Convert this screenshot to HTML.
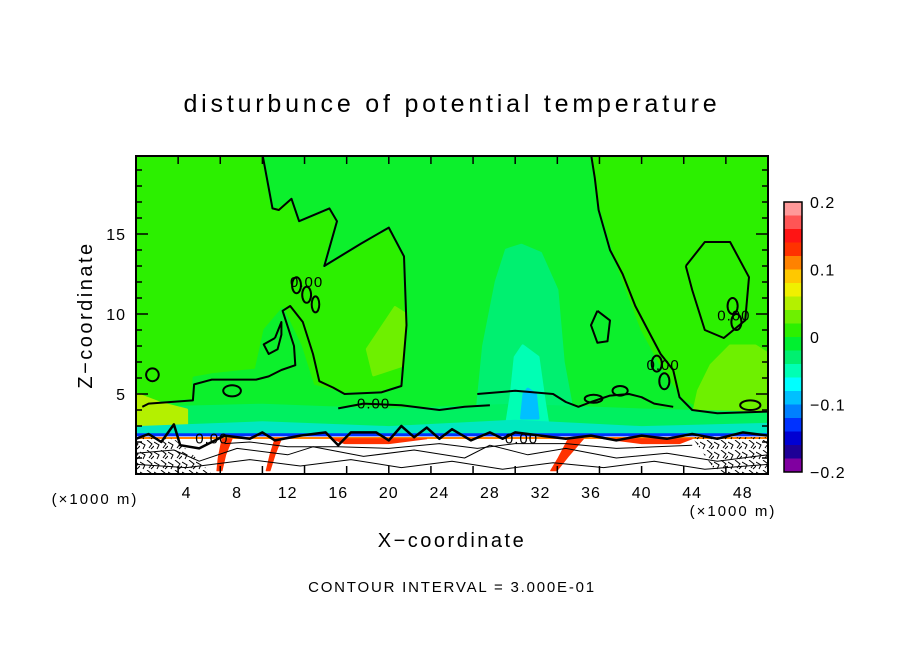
<!DOCTYPE html>
<html><head><meta charset="utf-8">
<style>
body{margin:0;background:#fff;}
svg text{font-family:"Liberation Sans",sans-serif;fill:#000;}
</style></head>
<body>
<svg id="chart" width="904" height="654" viewBox="0 0 904 654" xmlns="http://www.w3.org/2000/svg">
<rect width="904" height="654" fill="#fff"/>
<text x="452" y="112" font-size="25" text-anchor="middle" letter-spacing="3.8">disturbunce of potential temperature</text>
<defs>
<clipPath id="pc"><rect x="136" y="156" width="632" height="318"/></clipPath>
<pattern id="noise" width="14" height="10" patternUnits="userSpaceOnUse">
<path d="M0 2 L5 5 L3 9 M7 0 L12 4 L9 8 M11 9 L14 6" stroke="#000" stroke-width="1" fill="none"/>
</pattern>
</defs>
<g id="field" clip-path="url(#pc)"></g>
<g id="contours" clip-path="url(#pc)"></g>
<rect x="136" y="156" width="632" height="318" fill="none" stroke="#000" stroke-width="2"/>
<g id="axes"></g>
<g id="cbar"></g>
<text x="95" y="504" font-size="15" text-anchor="middle" letter-spacing="2">(×1000 m)</text>
<text x="733" y="516" font-size="15" text-anchor="middle" letter-spacing="2">(×1000 m)</text>
<text x="452" y="547" font-size="20" text-anchor="middle" letter-spacing="2.5">X−coordinate</text>
<text transform="translate(92,315) rotate(-90)" font-size="20" text-anchor="middle" letter-spacing="2.5">Z−coordinate</text>
<text x="452" y="592" font-size="15" text-anchor="middle" letter-spacing="1.8">CONTOUR INTERVAL = 3.000E-01</text>
</svg>
<script>
const xTicks=[4,8,12,16,20,24,28,32,36,40,44,48];
const zTicks=[5,10,15];
const cbLevels=[0.2,0.18,0.16,0.14,0.12,0.1,0.08,0.06,0.04,0.02,0,-0.02,-0.04,-0.06,-0.08,-0.1,-0.12,-0.14,-0.16,-0.18,-0.2];
const cbColors=["#ff9999","#ff5555","#ff1414","#ff3200","#ff8200","#ffc800","#f0f000","#b4f000","#6ef000","#2cf000","#00f030","#00f070","#00ffb4","#00ffff","#00c0ff","#0080ff","#0032ff","#0000d2","#1e0096","#8000a0"];
const cbTicks=[0.2,0.1,0,-0.1,-0.2];
const cbTickLabels=["0.2","0.1","0","−0.1","−0.2"];
const regionMid=[[10,20],[10.8,16.6],[12.3,17.2],[12.9,15.8],[15.3,16.6],[15.9,15.8],[14.9,13],[17.8,14.4],[20,15.4],[21.2,13.6],[21.4,9.3],[21,5.5],[19.4,5.1],[16.5,5],[14,5.5],[13,8],[11.6,10.3],[10.2,9],[9.5,6.5],[6,6.2],[4.6,6],[4.5,4.6],[1,4.4],[0,4.3],[0,2.5],[50,2.5],[50,3.5],[45.5,3.6],[43.2,4.6],[41.5,6.5],[39.8,9],[38,12.8],[36.6,16.5],[36.2,18.5],[36,20]];
const regionAqua=[[30.5,14.3],[32,13.8],[33.3,11.5],[33.8,7],[34.5,4],[27,4],[27.5,8],[28.5,12],[29.3,14]];
const regionCyan=[[30.6,8],[31.8,7.3],[32.3,4.5],[32.6,3],[29.3,3],[29.7,5],[30,7.3]];
const regionSky=[[31,5.3],[31.6,5],[31.8,3.5],[30.5,3.5],[30.7,5]];
const regionYG1=[[20.5,10.4],[21.3,10],[21.1,6.8],[18.8,6.2],[18.3,7.8]];
const regionYG2=[[47,8],[49,8],[50,7.5],[50,3.3],[44,3.4],[44.5,5.2],[45.5,6.8]];
const regionYG3=[[0,5],[2,4.4],[4,4],[4,2.6],[0,2.6]];
const bandAqua=[[0,4.1],[10,4.3],[20,4.0],[30,4.3],[40,4.0],[50,3.8],[50,2.5],[0,2.5]];
const bandCyan=[[0,2.9],[10,3.2],[20,2.9],[30,3.3],[40,2.9],[50,3.1],[50,2.5],[0,2.5]];
const bandBlue=[[0,2.55],[50,2.55],[50,2.3],[0,2.3]];
const bandWhite=[[0,2.35],[50,2.35],[50,0],[0,0]];
const bandNoiseL=[[0,2.3],[3,2.2],[4.5,1.2],[6,0],[0,0]];
const bandNoiseR=[[44,2.3],[50,2.3],[50,0],[46,0]];
const redStreaks=[[[6.8,2.2],[6.5,1],[6.4,0.2],[6.8,0.2],[7.1,1.2],[7.6,2.2]],[[34.2,2.2],[33.4,1],[32.8,0.2],[33.3,0.2],[34.2,1.1],[35.4,2.2]],[[15.5,2.2],[16.5,1.9],[20,1.9],[23,2.2]],[[37,2.2],[40,1.9],[43,1.9],[44,2.2]],[[11,2.2],[10.6,1.2],[10.3,0.2],[10.6,0.2],[11,1.2],[11.5,2.2]]];
const contourA=[[10,20],[10.8,16.6],[11.3,16.5],[12.3,17.2],[12.9,15.8],[15.3,16.6],[15.9,15.8],[14.9,13],[17.8,14.4],[20,15.4],[21.2,13.6],[21.4,9.3],[21,5.5],[19.4,5.1],[16.5,5],[15.6,5.4],[14.5,5.8],[14,7.5],[13.2,9.5],[12.2,10.5],[11.6,10.2],[12.5,8],[12.6,6.8],[11.5,6.5],[10.5,6.1],[9.5,5.9],[6,5.9],[4.6,5.6],[4.5,4.6],[1,4.4],[0.5,4.2]];
const contourB=[[36,20],[36.3,18.5],[36.6,16.5],[37.5,14],[38.5,12.5],[39.5,10.5],[40.5,9],[41.5,7.5],[42.5,6.5],[43,4.8],[44,4],[46,3.8],[50,3.9]];
const contourC=[[43.5,13],[45,14.5],[47,14.5],[48.5,12.3],[48.2,9.6],[46.5,8.5],[45,9],[44,11.5]];
const contourD=[[36.5,10.2],[37.5,9.6],[37.3,8.3],[36.5,8.2],[36,9.3]];
const contourE=[[11,8.5],[11.5,9.5],[11.5,8.7],[11.2,7.8],[10.5,7.5],[10.1,8.1]];
const contourF=[[27,5],[30,5.2],[33,5],[34,4.5],[35,4.2],[36,4.5],[37.5,4.9],[39,5],[40,4.8],[41,4.4],[42.5,4.2]];
const contourG=[[16,4.1],[18,4.4],[21,4.3],[24,4],[26,4.2],[28,4.3]];
const ovals=[[1.3,6.2,0.5,0.4],[7.6,5.2,0.7,0.35],[12.7,11.8,0.35,0.5],[13.5,11.2,0.35,0.5],[14.2,10.6,0.3,0.5],[38.3,5.2,0.6,0.3],[36.2,4.7,0.7,0.25],[48.6,4.3,0.8,0.3],[47.2,10.5,0.4,0.5],[47.5,9.5,0.4,0.5],[41.2,6.9,0.4,0.5],[41.8,5.8,0.4,0.5]];
const zeroLabels=[[13.5,11.7],[18.8,4.1],[47.3,9.6],[41.7,6.5],[6,1.9],[30.5,1.9]];
const ridgeLines=[[0,2.2],[1,2.5],[2,2],[3,3.1],[3.5,1.8],[5,1.6],[7,2.4],[9,2.2],[10,2.6],[11,2.1],[13,2.4],[15,2.6],[16,1.8],[17,2.6],[19,2.6],[20,2.1],[21,3],[22,2.3],[23,2.9],[24,2.2],[25,2.8],[26.5,2.1],[28,2.6],[29,2.2],[30,2.6],[32,2.4],[34,2.2],[36,2.4],[38,2.1],[40,2.4],[42,2.2],[44,2.5],[46,2.2],[48,2.6],[50,2.4]];
const innerLines=[[[0,1.3],[3,1.5],[5,0.8],[8,1.6],[12,1.2],[14,1.7],[18,1.1],[22,1.5],[26,1.0],[28,1.8],[31,1.2],[34,1.6],[38,1.0],[42,1.3],[46,0.8],[50,1.2]],[[0,0.6],[4,0.4],[9,0.9],[13,0.5],[17,0.9],[21,0.4],[25,0.8],[29,0.3],[33,0.7],[37,0.4],[41,0.8],[45,0.3],[50,0.6]],[[7,1.9],[9,2.0],[12,1.7],[16,1.7],[20,1.6],[24,1.9],[27,1.6],[30,1.9],[34,1.9],[38,1.6],[44,1.8]]];

const X0=136,X1=768,Y0=474,Y1=156;
const sx=x=>X0+x*(X1-X0)/50;
const sz=z=>Y0-z*(Y0-Y1)/19.875;
const NS="http://www.w3.org/2000/svg";
const field=document.getElementById('field'),cont=document.getElementById('contours'),axes=document.getElementById('axes'),cb=document.getElementById('cbar');
function mk(t,a){const e=document.createElementNS(NS,t);for(const k in a)e.setAttribute(k,a[k]);return e;}
function pts(arr){return arr.map(p=>sx(p[0]).toFixed(1)+','+sz(p[1]).toFixed(1)).join(' ');}
function poly(parent,arr,fill,name,sw){const e=mk('polygon',{points:pts(arr),fill:fill,stroke:sw===0?'none':fill,'stroke-width':sw===undefined?3:sw,'stroke-linejoin':'round'});


parent.appendChild(e);}
function line(parent,arr,w,name,col){const e=mk('polyline',{points:pts(arr),fill:'none',stroke:col||'#000','stroke-width':w,'stroke-linejoin':'round'});


parent.appendChild(e);}
const bg=mk('rect',{x:X0,y:Y1,width:X1-X0,height:Y0-Y1,fill:cbColors[9]});


field.appendChild(bg);
poly(field,regionMid,"#0cf02c",'region-mid');
poly(field,regionYG1,cbColors[8],'region-yellowgreen-1');
poly(field,regionYG2,cbColors[8],'region-yellowgreen-2');
poly(field,regionAqua,cbColors[11],'region-aqua');
poly(field,bandAqua,"#00f060",'band-aqua');
poly(field,regionYG3,cbColors[7],'region-yellowgreen-3');
poly(field,regionCyan,cbColors[12],'region-cyan');
poly(field,bandCyan,"#00e8c0",'band-cyan');
poly(field,regionSky,cbColors[14],'region-sky');
poly(field,bandBlue,cbColors[16],'band-blue',0);
poly(field,bandWhite,"#ffffff",'band-white',0);
line(field,[[0,2.25],[50,2.25]],2,'orange-fringe',cbColors[4]);
redStreaks.forEach(s=>poly(field,s,cbColors[3],'red-streak',1));
poly(field,bandNoiseL,"url(#noise)",'noise-left',0);
poly(field,bandNoiseR,"url(#noise)",'noise-right',0);
line(cont,contourA,2,'contour-a');
line(cont,contourB,2,'contour-b');
line(cont,contourC.concat([contourC[0]]),2,'contour-c');
line(cont,contourD.concat([contourD[0]]),2,'contour-d');
line(cont,contourE.concat([contourE[0]]),2,'contour-e');
line(cont,contourF,2,'contour-f');
line(cont,contourG,2,'contour-g');
line(cont,ridgeLines,2.5,'ridge-contour');
innerLines.forEach(l=>line(cont,l,1,'inner-contour'));
ovals.forEach(o=>{const e=mk('ellipse',{cx:sx(o[0]),cy:sz(o[1]),rx:o[2]*12.64,ry:o[3]*16,fill:'none',stroke:'#000','stroke-width':2});


cont.appendChild(e);});
zeroLabels.forEach(p=>{const t=mk('text',{x:sx(p[0]),y:sz(p[1]),'font-size':15,'text-anchor':'middle','letter-spacing':1});t.textContent='0.00';


cont.appendChild(t);});
for(let i=1;i<15;i++){const x=X0+i*(X1-X0)/15;
[[Y0,Y0-8],[Y1,Y1+8]].forEach(a=>{const e=mk('line',{x1:x,x2:x,y1:a[0],y2:a[1],stroke:'#000','stroke-width':1.5});


axes.appendChild(e);});}
for(let z=1;z<20;z++){const y=sz(z),L=z%5==0?12:6;
[[X0,X0+L],[X1,X1-L]].forEach(a=>{const e=mk('line',{x1:a[0],x2:a[1],y1:y,y2:y,stroke:'#000','stroke-width':1.5});


axes.appendChild(e);});}
xTicks.forEach(v=>{const t=mk('text',{x:sx(v),y:498,'font-size':16,'text-anchor':'middle','letter-spacing':1});t.textContent=v;


axes.appendChild(t);});
zTicks.forEach(v=>{const t=mk('text',{x:126,y:sz(v)+6,'font-size':16,'text-anchor':'end','letter-spacing':1});t.textContent=v;


axes.appendChild(t);});
const CB0=202,CB1=472,cx=784,cw=18;
const cy=v=>CB1-(v+0.2)/0.4*(CB1-CB0);
cbColors.forEach((c,i)=>{const e=mk('rect',{x:cx,y:cy(cbLevels[i]),width:cw,height:cy(cbLevels[i+1])-cy(cbLevels[i])+0.5,fill:c});


cb.appendChild(e);});
const fr=mk('rect',{x:cx,y:CB0,width:cw,height:CB1-CB0,fill:'none',stroke:'#000','stroke-width':1.5});


cb.appendChild(fr);
cbTicks.forEach((v,i)=>{const t=mk('text',{x:810,y:cy(v)+6,'font-size':16,'letter-spacing':1});t.textContent=cbTickLabels[i];


cb.appendChild(t);});
</script>
</body></html>
